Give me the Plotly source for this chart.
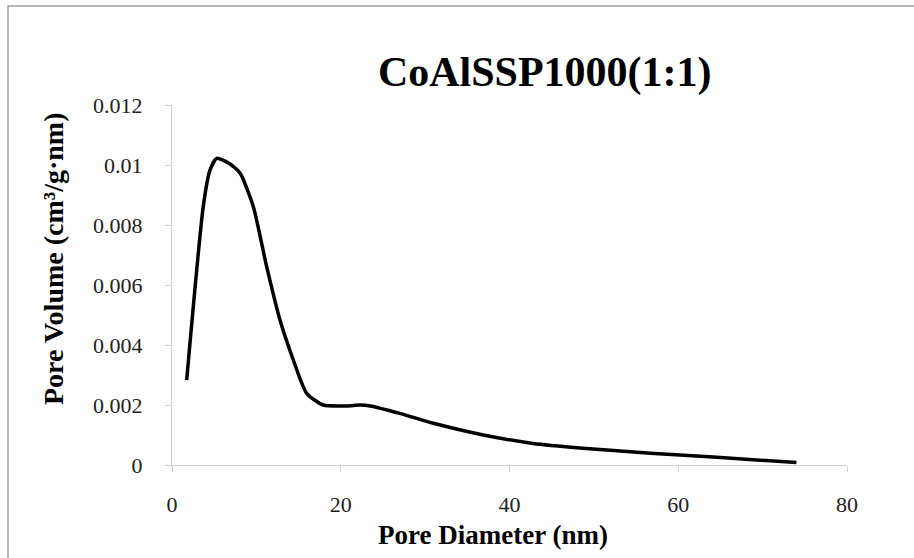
import plotly.graph_objects as go

pore_diameter = [1.74, 3.7, 4.5, 5.3, 6.8, 8.06, 9.64, 11.22, 12.8, 14.38, 15.96, 17.93, 20.7, 22.3, 23.5,
                 27.0, 31.0, 36.9, 42.8, 48.7, 56.7, 64.6, 74.0]
pore_volume = [0.00283, 0.00861, 0.00983, 0.01022, 0.01005, 0.00973, 0.00861, 0.00661, 0.00483, 0.0035,
               0.00239, 0.0020, 0.00197, 0.0020, 0.00197, 0.00172, 0.00139, 0.0010, 0.00072, 0.00056,
               0.00039, 0.00026, 0.00008]
x_ticks = [0, 20, 40, 60, 80]
y_ticks = [0, 0.002, 0.004, 0.006, 0.008, 0.01, 0.012]
y_tick_labels = ["0", "0.002", "0.004", "0.006", "0.008", "0.01", "0.012"]

SERIF = "Liberation Serif, Times New Roman, serif"
L, R, T, B = 172, 67, 105, 93
PW, PH = 914 - L - R, 558 - T - B


def px_to_paper_x(px):
    return (px - L) / PW


def px_to_paper_y(py):
    return (558 - B - py) / PH


fig = go.Figure()
fig.add_trace(go.Scatter(x=pore_diameter, y=pore_volume, mode="lines",
                         line=dict(color="black", width=3.5, shape="spline", smoothing=0.6),
                         showlegend=False))

fig.update_layout(
    width=914, height=558,
    margin=dict(l=L, r=R, t=T, b=B),
    paper_bgcolor="white", plot_bgcolor="white",
    title=dict(text="<b>CoAlSSP1000(1:1)</b>", x=0.596, xanchor="center", y=0.872, yanchor="middle",
               font=dict(family=SERIF, size=42, color="black")),
    xaxis=dict(range=[0, 80], tickvals=x_ticks, ticktext=[str(v) for v in x_ticks],
               showgrid=False, zeroline=False, showline=True, linecolor="#d0d0d0", linewidth=1,
               ticks="outside", ticklen=6, tickcolor="#d0d0d0", ticklabelstandoff=14,
               tickfont=dict(family=SERIF, size=22, color="#222222")),
    yaxis=dict(range=[0, 0.012], tickvals=y_ticks, ticktext=y_tick_labels,
               showgrid=False, zeroline=False, showline=True, linecolor="#d0d0d0", linewidth=1,
               ticks="outside", ticklen=6, tickcolor="#d0d0d0", ticklabelstandoff=18,
               tickfont=dict(family=SERIF, size=22, color="#222222")),
)

fig.add_annotation(text="<b>Pore Diameter (nm)</b>", xref="paper", yref="paper",
                   x=px_to_paper_x(493), y=px_to_paper_y(535), xanchor="center", yanchor="middle",
                   showarrow=False, font=dict(family=SERIF, size=27, color="black"))
fig.add_annotation(text="<b>Pore Volume (cm³/g·nm)</b>", xref="paper", yref="paper",
                   x=px_to_paper_x(53), y=px_to_paper_y(259), xanchor="center", yanchor="middle",
                   textangle=-90, showarrow=False, font=dict(family=SERIF, size=28, color="black"))

fig.add_shape(type="rect", xref="paper", yref="paper",
              x0=px_to_paper_x(8), x1=px_to_paper_x(930),
              y0=px_to_paper_y(580), y1=px_to_paper_y(6),
              line=dict(color="#a0a0a0", width=1.5), fillcolor="rgba(0,0,0,0)")

fig.write_html("out.html")
